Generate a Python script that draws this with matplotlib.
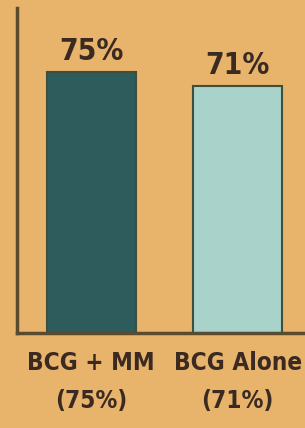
import matplotlib
matplotlib.use("Agg")
import matplotlib.pyplot as plt

groups = ["BCG + MM\n(75%)", "BCG Alone\n(71%)"]
values = [75, 71]
value_labels = ["75%", "71%"]

bg = "#e8b36b"
ink = "#3a2a22"
fonts = ["Liberation Sans Narrow", "DejaVu Sans"]

fig = plt.figure(figsize=(3.05, 4.28), dpi=100, facecolor=bg)
ax = fig.add_axes([17 / 305, 95 / 428, 1 - 17 / 305, 325 / 428])
ax.set_facecolor(bg)

x = range(len(values))
bars = ax.bar(x, values, width=0.61, color=["#2e5b5b", "#a9d3ca"],
              edgecolor="#3d5040", linewidth=1.5)

for xi, v, lab in zip(x, values, value_labels):
    ax.text(xi, v + 1.6, lab, ha="center", va="bottom", fontsize=21.5,
            fontweight="bold", fontstretch="condensed", color=ink,
            family=fonts)

ax.set_xlim(-0.507, 1.46)
ax.set_ylim(0, 93.4)
ax.set_xticks(list(x))
ax.set_xticklabels(groups, fontsize=17.5, fontweight="bold",
                   fontstretch="condensed", color=ink, family=fonts,
                   linespacing=1.75)
ax.tick_params(axis="x", length=0, pad=13)
ax.set_yticks([])

for side in ["top", "right"]:
    ax.spines[side].set_visible(False)
for side in ["left", "bottom"]:
    ax.spines[side].set_color("#5a4a30")
    ax.spines[side].set_linewidth(2.5)

fig.savefig("out.png", dpi=100, facecolor=bg)
